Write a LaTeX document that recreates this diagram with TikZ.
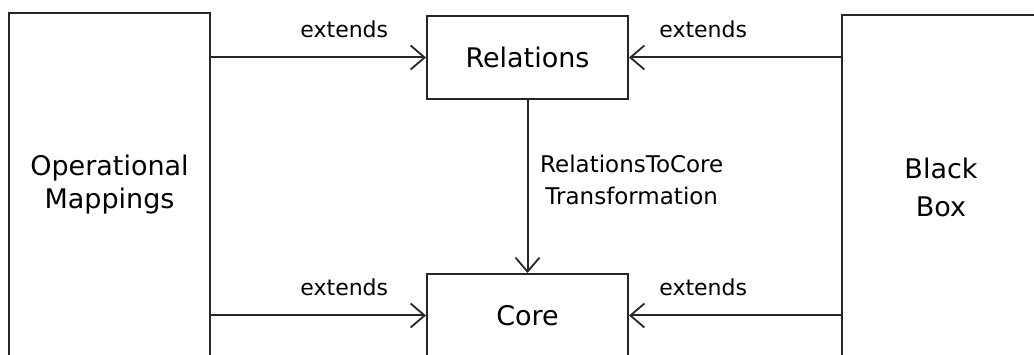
\documentclass[tikz,border=0pt]{standalone}
\usepackage{fontspec}
\setmainfont{DejaVu Sans}
\usetikzlibrary{arrows.meta}
\begin{document}
\begin{tikzpicture}[x=1pt,y=-1pt,
  box/.style={draw=black!85, line width=2pt, fill=none, inner sep=0pt, align=center,
    font=\fontsize{27}{33}\selectfont},
  lbl/.style={font=\fontsize{22}{27}\selectfont, inner sep=0pt},
  arr/.style={draw=black!85, line width=2pt, -{Straight Barb[length=14pt,width=24pt,line width=1.8pt]}}]
  \useasboundingbox (0,0) rectangle (1034,355);
  \clip (0,0) rectangle (1034,355);

  % package boxes
  \node[box, minimum width=201pt, minimum height=344pt] (om) at (109.5,185) {Operational\\Mappings};
  \node[box, minimum width=198pt, minimum height=344pt, font=\fontsize{27}{38}\selectfont] (bb) at (941,187) {Black\\Box};
  \node[box, minimum width=201pt, minimum height=83pt] (rel) at (527.5,57.5) {Relations};
  \node[box, minimum width=201pt, minimum height=83pt] (core) at (527.5,315.5) {Core};

  % extension relations
  \draw[arr] (om.east |- rel) -- node[lbl, pos=0.62, above=19pt] (e1) {extends} (rel.west);
  \draw[arr] (bb.west |- rel) -- node[lbl, pos=0.65, above=19pt] (e2) {extends} (rel.east);
  \draw[arr] (om.east |- core) -- node[lbl, pos=0.62, above=19pt] (e3) {extends} (core.west);
  \draw[arr] (bb.west |- core) -- node[lbl, pos=0.65, above=19pt] (e4) {extends} (core.east);

  % transformation
  \draw[arr] (rel.south) -- (core.north);
  \node[lbl, anchor=west, align=center, font=\fontsize{23}{32}\selectfont] (tr) at (540,180) {RelationsToCore\\Transformation};
\end{tikzpicture}
\end{document}
